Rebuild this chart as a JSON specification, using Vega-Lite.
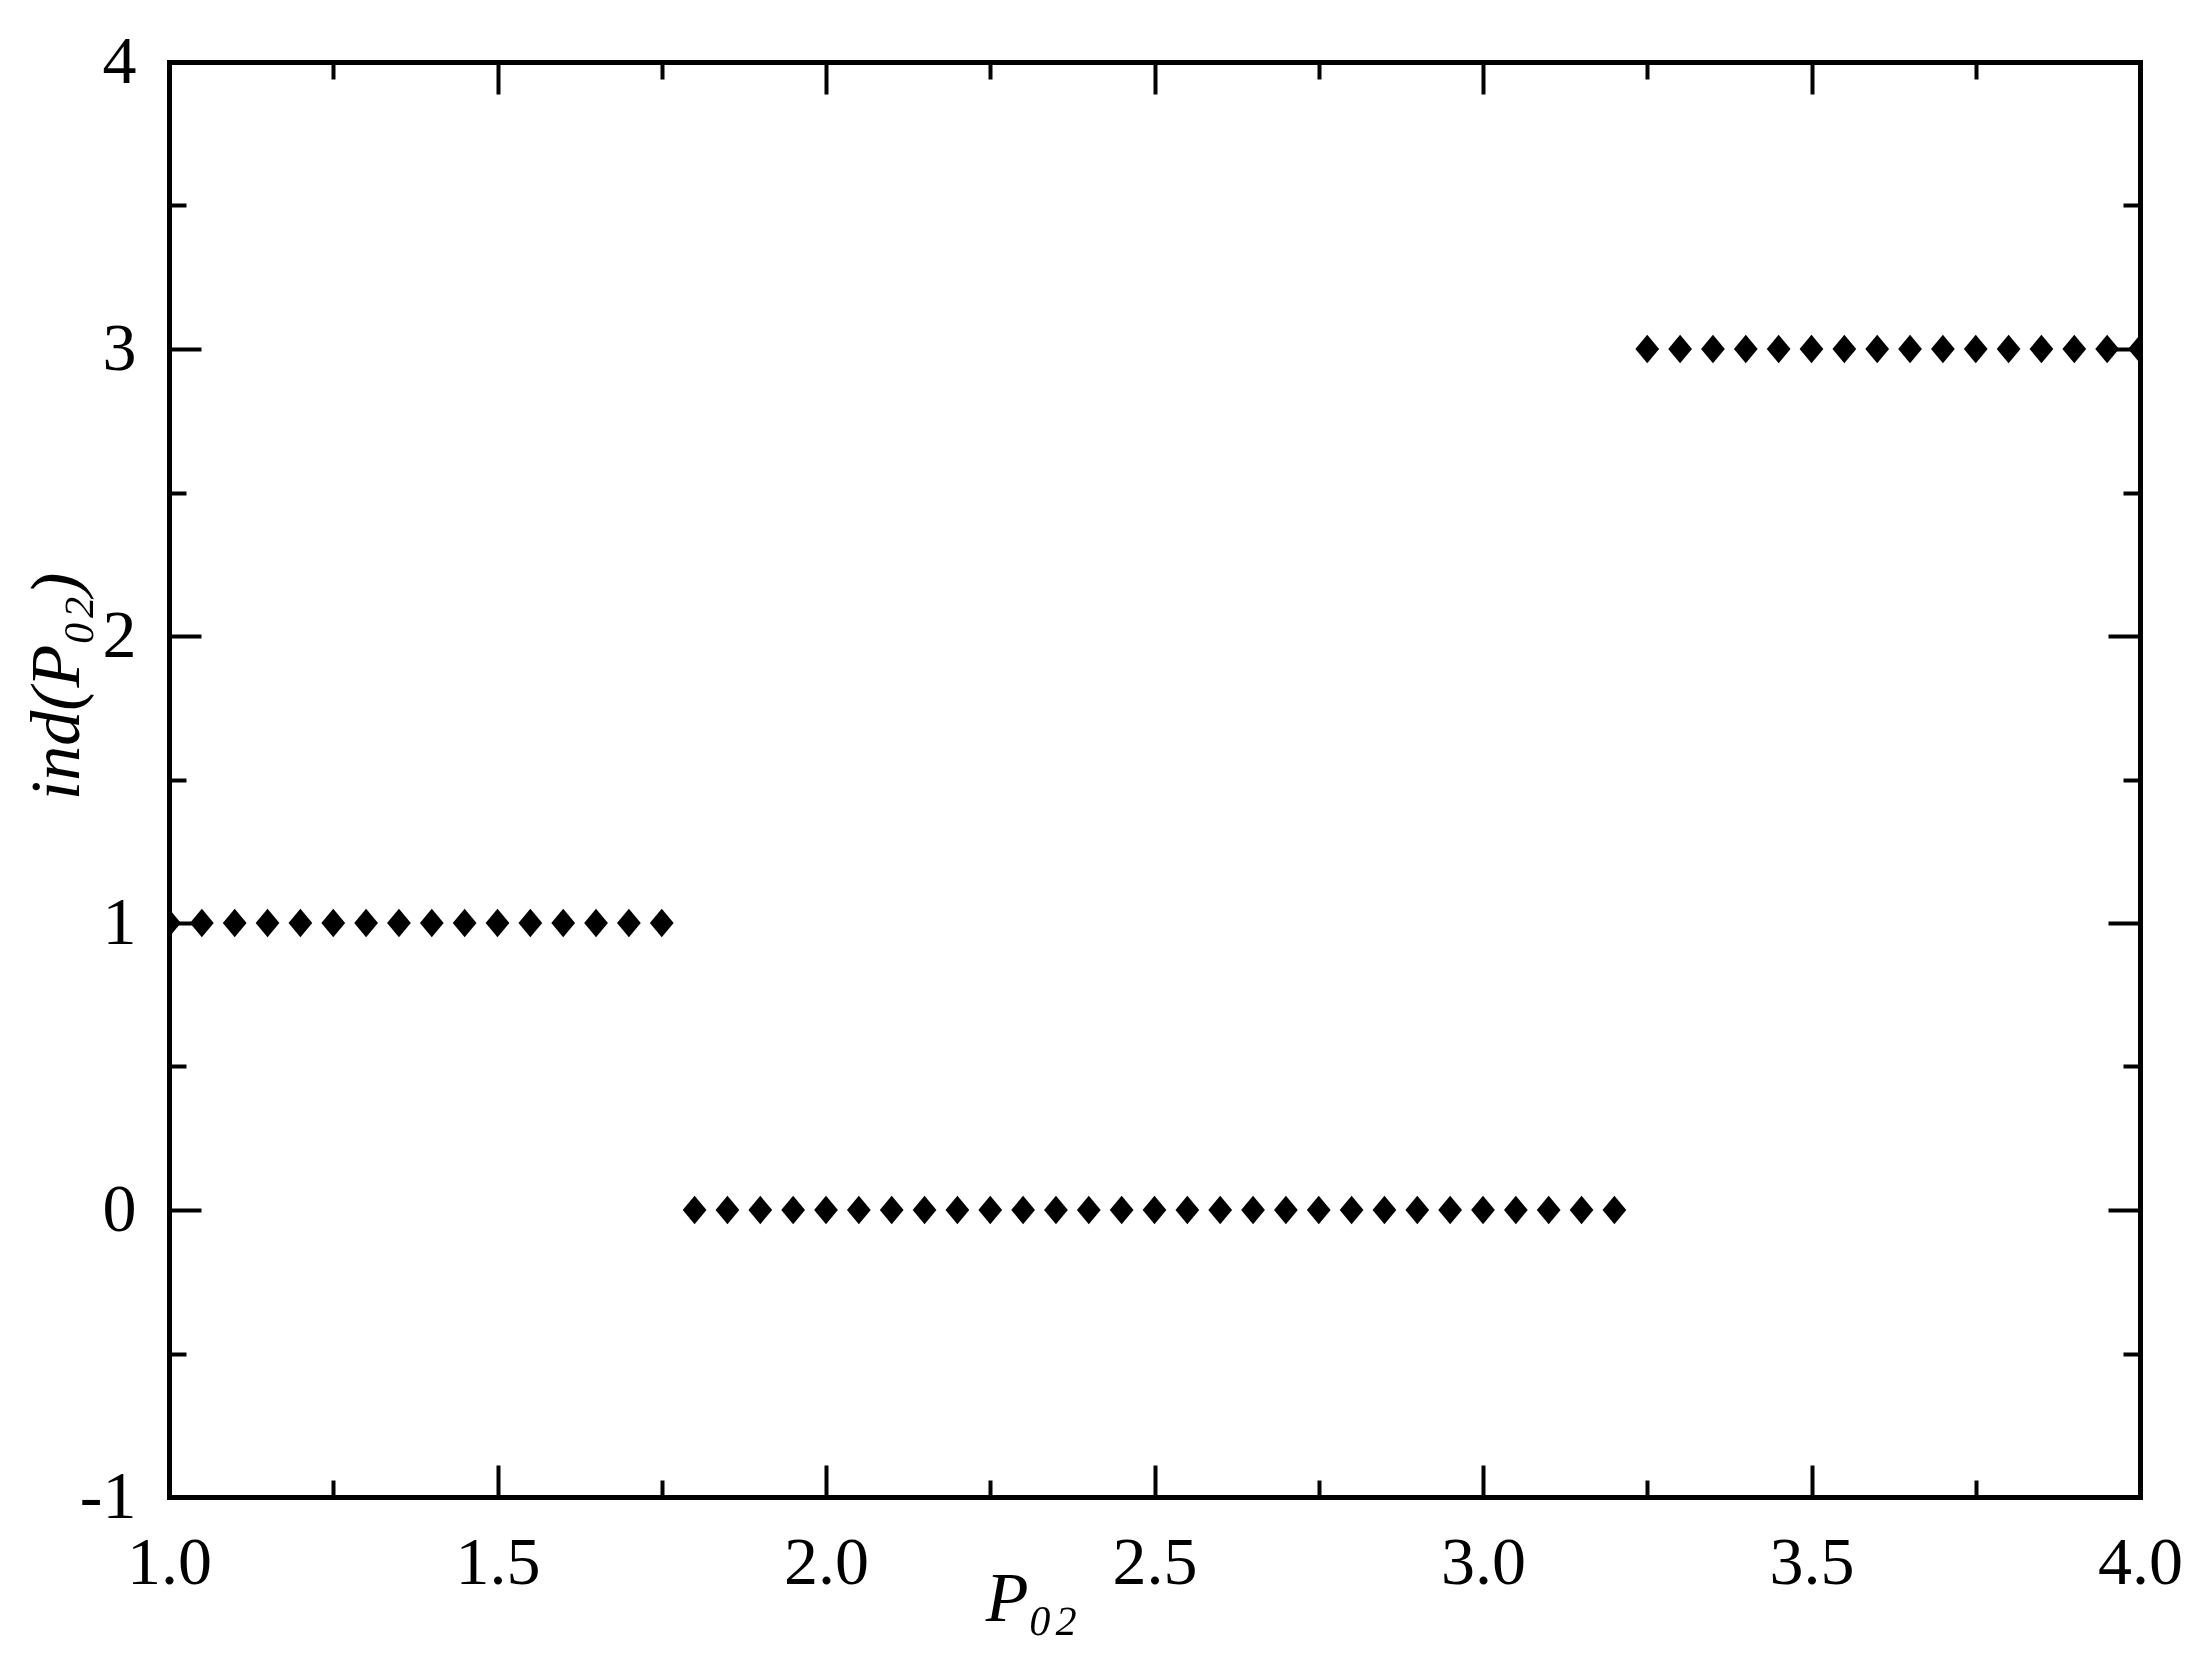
{
  "$schema": "https://vega.github.io/schema/vega-lite/v6.json",
  "width": 1971,
  "height": 1435,
  "autosize": {"type": "none"},
  "padding": {"left": 169, "top": 62, "right": 61, "bottom": 162},
  "background": "white",
  "config": {
    "view": {"stroke": null},
    "axis": {"labelFont": "Liberation Serif", "titleFont": "Liberation Serif", "labelColor": "black", "titleColor": "black", "tickColor": "black", "domainColor": "black", "grid": false}
  },
  "data": {"values": [
    {"x": 1.00, "y": 1}, {"x": 1.05, "y": 1}, {"x": 1.10, "y": 1}, {"x": 1.15, "y": 1}, {"x": 1.20, "y": 1}, {"x": 1.25, "y": 1}, {"x": 1.30, "y": 1}, {"x": 1.35, "y": 1}, {"x": 1.40, "y": 1}, {"x": 1.45, "y": 1}, {"x": 1.50, "y": 1}, {"x": 1.55, "y": 1}, {"x": 1.60, "y": 1}, {"x": 1.65, "y": 1}, {"x": 1.70, "y": 1}, {"x": 1.75, "y": 1},
    {"x": 1.80, "y": 0}, {"x": 1.85, "y": 0}, {"x": 1.90, "y": 0}, {"x": 1.95, "y": 0}, {"x": 2.00, "y": 0}, {"x": 2.05, "y": 0}, {"x": 2.10, "y": 0}, {"x": 2.15, "y": 0}, {"x": 2.20, "y": 0}, {"x": 2.25, "y": 0}, {"x": 2.30, "y": 0}, {"x": 2.35, "y": 0}, {"x": 2.40, "y": 0}, {"x": 2.45, "y": 0}, {"x": 2.50, "y": 0}, {"x": 2.55, "y": 0}, {"x": 2.60, "y": 0}, {"x": 2.65, "y": 0}, {"x": 2.70, "y": 0}, {"x": 2.75, "y": 0}, {"x": 2.80, "y": 0}, {"x": 2.85, "y": 0}, {"x": 2.90, "y": 0}, {"x": 2.95, "y": 0}, {"x": 3.00, "y": 0}, {"x": 3.05, "y": 0}, {"x": 3.10, "y": 0}, {"x": 3.15, "y": 0}, {"x": 3.20, "y": 0},
    {"x": 3.25, "y": 3}, {"x": 3.30, "y": 3}, {"x": 3.35, "y": 3}, {"x": 3.40, "y": 3}, {"x": 3.45, "y": 3}, {"x": 3.50, "y": 3}, {"x": 3.55, "y": 3}, {"x": 3.60, "y": 3}, {"x": 3.65, "y": 3}, {"x": 3.70, "y": 3}, {"x": 3.75, "y": 3}, {"x": 3.80, "y": 3}, {"x": 3.85, "y": 3}, {"x": 3.90, "y": 3}, {"x": 3.95, "y": 3}, {"x": 4.00, "y": 3}
  ]},
  "resolve": {"axis": {"x": "independent", "y": "independent"}},
  "layer": [
    {
      "mark": {"type": "point", "shape": "M0,-1L0.84,0L0,1L-0.84,0Z", "filled": true, "color": "black", "opacity": 1, "size": 800, "clip": true},
      "encoding": {
        "x": {"field": "x", "type": "quantitative", "scale": {"domain": [1, 4], "nice": false, "zero": false},
          "axis": {"orient": "bottom", "values": [1, 1.5, 2, 2.5, 3, 3.5, 4], "format": ".1f", "ticks": false, "domain": true, "domainWidth": 5, "domainCap": "square", "labelFontSize": 68, "labelPadding": 32, "labelBaseline": "top", "labelFlush": false, "labelOverlap": false, "zindex": 1,
            "title": "P₀₂", "titleFontSize": 70, "titleFontStyle": "italic", "titleFontWeight": "normal", "titleX": 862, "titleY": 123, "titleAlign": "center", "titleBaseline": "alphabetic"}},
        "y": {"field": "y", "type": "quantitative", "scale": {"domain": [-1, 4], "nice": false, "zero": false},
          "axis": {"orient": "left", "values": [-1, 0, 1, 2, 3, 4], "labelExpr": "datum.value < 0 ? '-' + format(-datum.value, 'd') : format(datum.value, 'd')", "ticks": false, "domain": true, "domainWidth": 5, "domainCap": "square", "labelFontSize": 68, "labelPadding": 33, "labelBaseline": "middle", "labelFlush": false, "labelOverlap": false, "zindex": 1,
            "title": "ind(P₀₂)", "titleFontSize": 70, "titleFontStyle": "italic", "titleFontWeight": "normal", "titleAngle": -90, "titleX": -112, "titleY": 624, "titleAlign": "center", "titleBaseline": "middle"}}
      }
    },
    {
      "mark": {"type": "point", "opacity": 0},
      "encoding": {
        "x": {"field": "x", "type": "quantitative", "axis": {"orient": "bottom", "values": [1, 1.5, 2, 2.5, 3, 3.5, 4], "labels": false, "domain": false, "ticks": true, "tickSize": -32, "tickWidth": 4, "title": null, "zindex": 1}},
        "y": {"field": "y", "type": "quantitative", "axis": {"orient": "left", "values": [-1, 0, 1, 2, 3, 4], "labels": false, "domain": false, "ticks": true, "tickSize": -32, "tickWidth": 4, "title": null, "zindex": 1}}
      }
    },
    {
      "mark": {"type": "point", "opacity": 0},
      "encoding": {
        "x": {"field": "x", "type": "quantitative", "axis": {"orient": "bottom", "values": [1.25, 1.75, 2.25, 2.75, 3.25, 3.75], "labels": false, "domain": false, "ticks": true, "tickSize": -17, "tickWidth": 4, "title": null, "zindex": 1}},
        "y": {"field": "y", "type": "quantitative", "axis": {"orient": "left", "values": [-0.5, 0.5, 1.5, 2.5, 3.5], "labels": false, "domain": false, "ticks": true, "tickSize": -17, "tickWidth": 4, "title": null, "zindex": 1}}
      }
    },
    {
      "mark": {"type": "point", "opacity": 0},
      "encoding": {
        "x": {"field": "x", "type": "quantitative", "axis": {"orient": "top", "values": [1, 1.5, 2, 2.5, 3, 3.5, 4], "labels": false, "domain": true, "domainWidth": 5, "domainCap": "square", "ticks": true, "tickSize": -32, "tickWidth": 4, "title": null, "zindex": 1}},
        "y": {"field": "y", "type": "quantitative", "axis": {"orient": "right", "values": [-1, 0, 1, 2, 3, 4], "labels": false, "domain": true, "domainWidth": 5, "domainCap": "square", "ticks": true, "tickSize": -32, "tickWidth": 4, "title": null, "zindex": 1}}
      }
    },
    {
      "mark": {"type": "point", "opacity": 0},
      "encoding": {
        "x": {"field": "x", "type": "quantitative", "axis": {"orient": "top", "values": [1.25, 1.75, 2.25, 2.75, 3.25, 3.75], "labels": false, "domain": false, "ticks": true, "tickSize": -17, "tickWidth": 4, "title": null, "zindex": 1}},
        "y": {"field": "y", "type": "quantitative", "axis": {"orient": "right", "values": [-0.5, 0.5, 1.5, 2.5, 3.5], "labels": false, "domain": false, "ticks": true, "tickSize": -17, "tickWidth": 4, "title": null, "zindex": 1}}
      }
    }
  ]
}
